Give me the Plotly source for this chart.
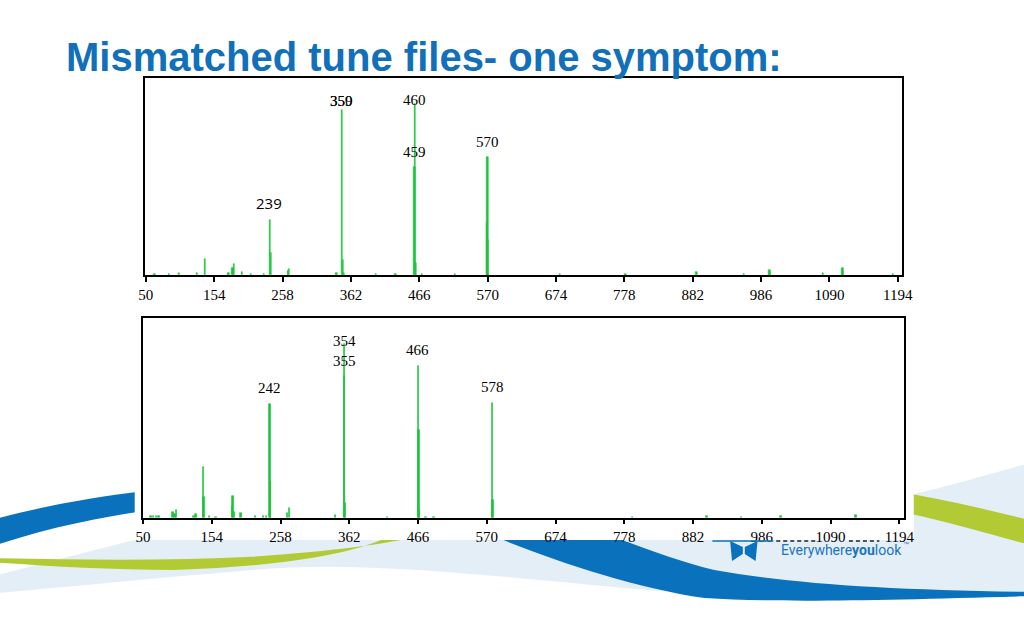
import plotly.graph_objects as go

W, H = 1024, 640   # figure size in px

# ---------------- data ----------------
tick_vals = [50, 154, 258, 362, 466, 570, 674, 778, 882, 986, 1090, 1194]
tick_text = [str(v) for v in tick_vals]

# top spectrum (relative intensity, % of frame height)
top_mz = [63, 85, 100, 128, 140, 176, 182, 184, 196, 210, 230, 239, 240, 266, 268,
          340, 348, 349.5, 352, 400, 430, 459, 460, 461, 470, 520, 569, 570, 571,
          680, 780, 888, 960, 999, 1000, 1080, 1110, 1111, 1187]
top_int = [0.5, 0.4, 0.8, 1.0, 8.0, 1.0, 3.5, 5.6, 1.7, 0.5, 0.6, 28.0, 11.0, 2.0, 3.0,
           1.0, 84.0, 7.6, 1.0, 0.4, 0.5, 55.0, 87.0, 6.0, 0.6, 0.4, 27.0, 60.0, 18.0,
           0.3, 0.5, 1.4, 0.4, 2.5, 1.5, 0.8, 3.4, 2.0, 0.6]

# bottom spectrum
bot_mz = [62, 66, 70, 74, 95, 98, 100, 127, 130, 141, 142, 150, 160, 185, 186, 188,
          198, 220, 232, 236, 242, 243, 268, 271, 341, 354, 355, 356, 420, 466, 467,
          468, 478, 490, 578, 579, 790, 903, 955, 1015, 1128]
bot_int = [1.0, 1.0, 0.8, 1.0, 3.0, 2.0, 3.7, 1.0, 1.7, 25.2, 10.3, 0.6, 0.5, 6.0, 10.9, 3.0,
           2.3, 0.7, 0.7, 0.8, 56.9, 17.9, 2.5, 4.8, 1.5, 86.8, 70.9, 7.4, 0.4, 75.9, 43.9,
           4.0, 0.5, 0.5, 57.2, 8.8, 0.4, 1.0, 0.3, 1.0, 1.2]

top_label_mz = [348, 348, 459, 459, 569.6, 237.8]
top_label_y = [88.3, 88.3, 88.8, 62.6, 67.7, 36.4]
top_label_txt = ["350", "359", "460", "459", "570", "239"]

bot_label_mz = [354, 354, 465.3, 242, 578.3]
bot_label_y = [88.5, 78.6, 84.0, 64.8, 65.6]
bot_label_txt = ["354", "355", "466", "242", "578"]

title_text = "Mismatched tune files- one symptom:"

# ---------------- styling ----------------
GREEN = "#1cc43c"
BLUE = "#0a72bd"
LIGHT = "#e3eef7"
LIME = "#b2cb35"
SERIF = "Liberation Serif, Times New Roman, serif"


def fx(x):
    return x / W


def fy(y):
    return 1 - y / H


def path(cmds):
    out = []
    for c, pts in cmds:
        if c == "L":
            for x, y in pts:
                out.append(f"L {fx(x):.4f},{fy(y):.4f}")
        else:
            s = " ".join(f"{fx(x):.4f},{fy(y):.4f}" for x, y in pts)
            out.append(f"{c} {s}")
    return " ".join(out) + " Z"


fig = go.Figure()

bar_style = dict(color=GREEN, line=dict(color=GREEN, width=0.6))
fig.add_trace(go.Bar(x=top_mz, y=top_int, width=2.0, marker=bar_style,
                     xaxis="x", yaxis="y", showlegend=False))
fig.add_trace(go.Bar(x=bot_mz, y=bot_int, width=2.0, marker=bar_style,
                     xaxis="x2", yaxis="y2", showlegend=False))

xcommon = dict(tickvals=tick_vals, ticktext=tick_text, ticks="outside", ticklen=5, tickwidth=1.5,
               tickcolor="black", showline=True, linecolor="black", linewidth=1.5, mirror=True,
               showgrid=False, zeroline=False, tickfont=dict(family=SERIF, size=15, color="black"))
ycommon = dict(range=[0, 100], showticklabels=False, ticks="", showline=True, linecolor="black",
               linewidth=1.5, mirror=True, showgrid=False, zeroline=False)

shapes = []
# light blue band
shapes.append(dict(type="path", xref="paper", yref="paper", layer="below", line=dict(width=0), fillcolor=LIGHT,
                   path=path([("M", [(-20, 594)]), ("L", [(-20, 578)]), ("C", [(40, 562), (90, 550), (130, 540)]),
                              ("L", [(923, 540), (923, 494)]),
                              ("C", [(960, 486), (1000, 474), (1045, 462)]),
                              ("L", [(1045, 596)]), ("C", [(900, 597), (780, 595), (700, 593)]),
                              ("C", [(640, 590), (580, 583), (520, 578)]),
                              ("C", [(430, 570), (330, 562), (250, 570)]),
                              ("C", [(150, 578), (60, 587), (-20, 594)])])))
# blue band right
shapes.append(dict(type="path", xref="paper", yref="paper", layer="below", line=dict(width=0), fillcolor=BLUE,
                   path=path([("M", [(500, 538)]), ("L", [(620, 538)]),
                              ("C", [(660, 552), (690, 563), (720, 570)]),
                              ("C", [(800, 584), (900, 590), (1045, 592)]),
                              ("L", [(1045, 596)]),
                              ("C", [(900, 600), (790, 603), (710, 598)]),
                              ("C", [(640, 588), (560, 562), (500, 538)])])))
# blue band left
shapes.append(dict(type="path", xref="paper", yref="paper", layer="below", line=dict(width=0), fillcolor=BLUE,
                   path=path([("M", [(-20, 521)]), ("C", [(40, 505), (90, 497), (140, 491)]),
                              ("L", [(140, 511)]), ("C", [(90, 518), (40, 528), (-20, 548)])])))
# lime band left
shapes.append(dict(type="path", xref="paper", yref="paper", layer="below", line=dict(width=0), fillcolor=LIME,
                   path=path([("M", [(-20, 558)]), ("C", [(80, 560), (170, 561), (260, 556)]),
                              ("C", [(330, 551), (380, 545), (420, 536)]),
                              ("L", [(390, 536)]),
                              ("C", [(350, 555), (280, 566), (170, 570)]),
                              ("C", [(100, 570), (40, 566), (-20, 562)])])))
# lime band right
shapes.append(dict(type="path", xref="paper", yref="paper", layer="below", line=dict(width=0), fillcolor=LIME,
                   path=path([("M", [(920, 494)]), ("C", [(955, 500), (1000, 510), (1045, 521)]),
                              ("L", [(1045, 546)]), ("C", [(1000, 534), (955, 521), (920, 514)])])))
# white backing of the spectrum images
shapes.append(dict(type="rect", xref="paper", yref="paper", layer="below", line=dict(width=0), fillcolor="white",
                   x0=fx(130), x1=fx(923), y0=fy(540), y1=fy(300)))
# logo glyph
shapes.append(dict(type="path", xref="paper", yref="paper", layer="above", line=dict(width=0), fillcolor=BLUE,
                   path=path([("M", [(736, 541)]), ("L", [(749, 547), (749, 554), (738, 561)])])))
shapes.append(dict(type="path", xref="paper", yref="paper", layer="above", line=dict(width=0), fillcolor=BLUE,
                   path=path([("M", [(764, 541)]), ("L", [(751, 547), (751, 554), (762, 561)])])))
shapes.append(dict(type="line", xref="paper", yref="paper", layer="above", line=dict(width=1.5, color=BLUE),
                   x0=fx(718), x1=fx(780), y0=fy(541), y1=fy(541)))
# tops of the partly hidden logo lettering
for a, b in [(783, 823), (857, 888)]:
    shapes.append(dict(type="line", xref="paper", yref="paper", layer="above",
                       line=dict(width=1.5, color="#222222", dash="4px,3px"),
                       x0=fx(a), x1=fx(b), y0=fy(541), y1=fy(541)))

annotations = []
annotations.append(dict(xref="paper", yref="paper", x=fx(58), y=fy(57), xanchor="left", yanchor="middle",
                        text=f"<b>{title_text}</b>", showarrow=False,
                        font=dict(family="Liberation Sans, Arial, sans-serif", size=40, color="#1170b9")))
for m, yv, t in zip(top_label_mz, top_label_y, top_label_txt):
    fam = "Open Sans, Liberation Sans, sans-serif" if t == "239" else SERIF
    annotations.append(dict(xref="x", yref="y", x=m, y=yv, text=t, showarrow=False,
                            font=dict(family=fam, size=15, color="black")))
for m, yv, t in zip(bot_label_mz, bot_label_y, bot_label_txt):
    annotations.append(dict(xref="x2", yref="y2", x=m, y=yv, text=t, showarrow=False,
                            font=dict(family=SERIF, size=15, color="black")))
annotations.append(dict(xref="paper", yref="paper", x=fx(786), y=fy(550), xanchor="left", yanchor="middle",
                        text="Everywhere<b>you</b>look", showarrow=False,
                        font=dict(family="Liberation Sans Narrow, Roboto, Liberation Sans, sans-serif",
                                  size=14, color="#1a75bc")))
annotations.append(dict(xref="paper", yref="paper", x=fx(910), y=fy(544), xanchor="left", yanchor="middle",
                        text="™", showarrow=False,
                        font=dict(family="Liberation Sans, sans-serif", size=6, color="#1a75bc")))

fig.update_layout(
    width=W, height=H, autosize=False, margin=dict(l=0, r=0, t=0, b=0),
    paper_bgcolor="white", plot_bgcolor="white",
    barmode="overlay", bargap=0,
    xaxis=dict(domain=[fx(140), fx(911)], range=[48, 1200.4], anchor="y", **xcommon),
    yaxis=dict(domain=[fy(275), fy(78)], anchor="x", **ycommon),
    xaxis2=dict(domain=[fx(138.3), fx(912.7)], range=[49.7, 1200.5], anchor="y2", **xcommon),
    yaxis2=dict(domain=[fy(517.5), fy(318)], anchor="x2", **ycommon),
    shapes=shapes, annotations=annotations,
)

fig.write_html(
    "out.html",
    config={"responsive": False, "displayModeBar": False},
    post_script="document.body.style.margin='0px';document.body.style.overflow='hidden';"
                "document.documentElement.style.overflow='hidden';",
)
